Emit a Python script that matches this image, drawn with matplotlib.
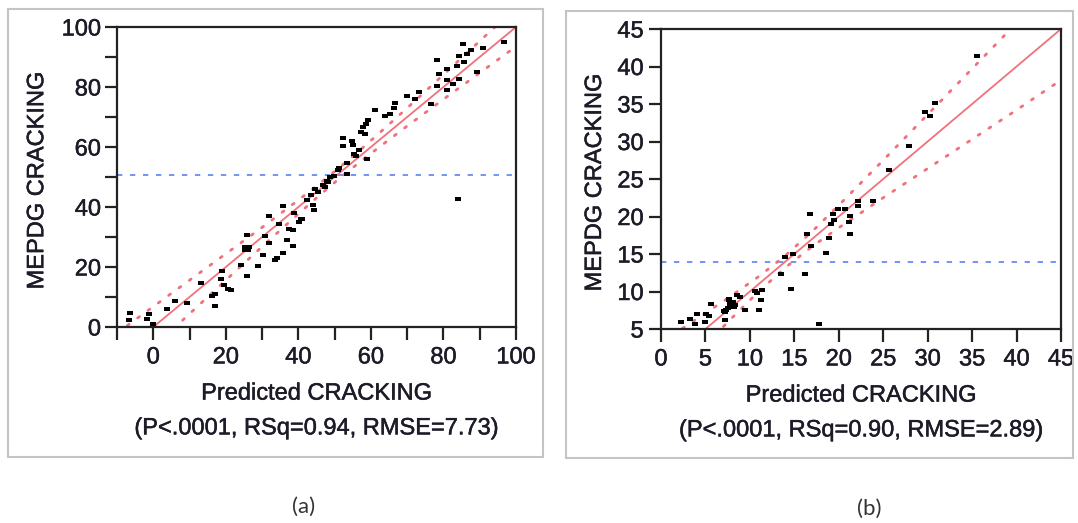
import matplotlib
matplotlib.use("Agg")
import matplotlib.pyplot as plt
import matplotlib.patheffects as pe
from matplotlib.patches import Rectangle
import numpy as np

plt.rcParams["font.family"] = ["Liberation Sans", "DejaVu Sans"]

# ---- panel (a) data: predicted vs MEPDG cracking ----
a_pred = [-6.3, -6.8, -1.3, -1.7, 0.0, 3.8, 6.1, 9.3, 13.1, 16.2, 17.1, 17.1,
          18.9, 18.7, 19.4, 20.5, 21.4, 24.2, 25.3, 26.3, 25.4, 26.2, 25.8, 25.8,
          29.0, 30.2, 30.7, 31.9, 31.9, 33.6, 34.1, 34.7, 35.7, 35.7, 36.8, 37.5,
          38.5, 38.5, 38.9, 40.3, 40.8, 41.0, 42.3, 44.0, 44.2, 43.5, 44.6, 45.5,
          46.9, 47.4, 47.8, 48.3, 48.8, 49.7, 50.9, 51.3, 53.4, 53.4, 52.3, 52.3,
          54.9, 55.0, 55.4, 55.9, 56.8, 58.9, 57.2, 57.9, 58.7, 59.3, 58.4, 61.2,
          63.9, 65.3, 66.4, 66.7, 69.9, 72.2, 73.3, 76.6, 78.1, 78.9, 78.1, 80.9,
          81.1, 81.1, 82.6, 83.7, 84.4, 84.3, 85.3, 85.8, 86.4, 87.6, 89.2, 90.8,
          96.8, 84.1]
a_actual = [4.8, 2.2, 4.2, 2.8, 0.9, 6.1, 8.7, 8.1, 14.8, 10.3, 10.9, 6.9,
            18.7, 16.1, 13.9, 12.8, 12.2, 20.8, 25.6, 26.6, 26.6, 25.7, 30.8, 16.9,
            20.2, 24.1, 30.2, 28.1, 36.9, 22.4, 23.1, 34.2, 40.2, 24.8, 28.9, 32.8,
            32.2, 26.9, 38.1, 35.0, 36.1, 36.1, 42.2, 40.8, 38.9, 44.1, 45.9, 45.0,
            47.2, 46.7, 48.7, 48.3, 50.0, 50.3, 52.4, 53.1, 54.7, 50.9, 63.0, 60.2,
            61.9, 60.8, 57.6, 57.0, 59.1, 55.9, 65.0, 66.7, 67.8, 68.9, 64.4, 72.2,
            70.2, 70.9, 73.0, 74.8, 76.9, 76.1, 78.2, 74.2, 88.9, 84.2, 80.2, 86.1,
            82.2, 78.9, 80.9, 86.9, 90.2, 82.8, 94.2, 88.3, 90.9, 92.2, 84.9, 93.0,
            95.0, 42.8]
a_mean_actual = 50.6
a_stats = "(P<.0001, RSq=0.94, RMSE=7.73)"
# confidence curve half-widths
a_band_x = [-10, 0, 10, 20, 30, 40, 45, 51, 57, 62, 70, 80, 90, 100]
a_band_hw = [8.0, 6.8, 5.6, 4.4, 3.2, 2.3, 1.96, 1.8, 1.96, 2.3, 3.0, 4.1, 5.3, 6.5]
a_xticks = list(range(-10, 101, 10))
a_xticklabels = ["", "0", "", "20", "", "40", "", "60", "", "80", "", "100"]
a_yticks = list(range(0, 101, 10))
a_yticklabels = ["0", "", "20", "", "40", "", "60", "", "80", "", "100"]

# ---- panel (b) data ----
b_pred = [2.2, 3.3, 3.8, 4.0, 4.9, 5.1, 5.4, 5.6, 7.2, 7.2, 7.5, 7.6,
          7.8, 7.9, 8.1, 8.5, 8.9, 8.3, 9.4, 10.6, 10.8, 11.4, 11.2, 11.0,
          13.5, 13.9, 14.6, 14.9, 16.2, 16.4, 16.8, 16.9, 17.8, 18.6, 18.9, 19.1,
          19.3, 19.5, 19.9, 20.7, 21.1, 21.3, 21.3, 22.2, 22.2, 23.8, 25.6, 27.9,
          29.7, 30.3, 30.8, 35.5, 7.3, 7.7, 8.2, 7.1]
b_actual = [5.9, 6.4, 5.7, 7.0, 5.9, 7.0, 6.7, 8.3, 6.2, 7.3, 7.8, 8.9,
            8.4, 8.2, 8.6, 9.5, 9.3, 8.2, 7.5, 10.1, 9.8, 10.2, 8.9, 7.5,
            12.3, 14.6, 10.4, 15.0, 12.3, 17.7, 20.3, 16.1, 5.7, 15.2, 17.1, 19.0,
            20.3, 19.5, 21.0, 21.0, 19.3, 20.1, 17.7, 22.1, 21.4, 22.1, 26.2, 29.4,
            33.9, 33.4, 35.2, 41.4, 7.6, 9.0, 8.0, 7.4]
b_mean_actual = 14.0
b_stats = "(P<.0001, RSq=0.90, RMSE=2.89)"
b_band_x = [0, 5, 8, 11, 14, 17, 20, 25, 30, 35, 40, 45]
b_band_hw = [3.2, 2.1, 1.5, 1.0, 0.8, 1.0, 1.5, 2.5, 3.6, 4.7, 5.8, 6.8]
b_xticks = list(range(0, 46, 5))
b_xticklabels = [str(v) for v in b_xticks]
b_yticks = list(range(5, 46, 5))
b_yticklabels = [str(v) for v in b_yticks]

RED = "#f0717b"
BLUE = "#4a78f0"
TXT = "#1c1c28"
FS = 17
heavy = [pe.withStroke(linewidth=0.35, foreground=TXT)]

# small wide rectangle used by JMP for points
rect_marker = [(-1, -0.62), (1, -0.62), (1, 0.62), (-1, 0.62), (-1, -0.62)]


def draw_panel(ax, pred, actual, mean_actual, band_x, band_hw, xlim, ylim,
               xticks, xticklabels, yticks, yticklabels, stats, ylab_x, ypad):
    bx = np.array(band_x, dtype=float)
    hw = np.array(band_hw, dtype=float)
    ax.axhline(mean_actual, color=BLUE, lw=1.1, ls=(0, (3.5, 5)), zorder=1)
    ax.plot(xlim, xlim, color=RED, lw=1.3, zorder=2)
    for sign in (1, -1):
        ax.plot(bx, bx + sign * hw, color=RED, lw=2.0, ls=(0, (0.8, 3.8)),
                dash_capstyle="round", zorder=2)
    ax.plot(pred, actual, ls="none", marker=rect_marker, markersize=4.8,
            color="black", mew=0, zorder=3)

    ax.set_xlim(xlim)
    ax.set_ylim(ylim)
    ax.set_xticks(xticks)
    ax.set_xticklabels(xticklabels)
    ax.set_yticks(yticks)
    ax.set_yticklabels(yticklabels)
    ax.tick_params(direction="out", length=9, width=1.6, color="#222222",
                   labelsize=FS, labelcolor=TXT)
    ax.tick_params(axis="x", pad=5)
    ax.tick_params(axis="y", pad=ypad)
    for lab in ax.get_xticklabels() + ax.get_yticklabels():
        lab.set_path_effects(heavy)
    for sp in ax.spines.values():
        sp.set_linewidth(1.6)
        sp.set_color("#222222")

    ax.text(0.5, -0.222, "Predicted CRACKING", transform=ax.transAxes,
            ha="center", va="center", fontsize=FS, color=TXT, path_effects=heavy)
    ax.text(0.5, -0.338, stats, transform=ax.transAxes,
            ha="center", va="center", fontsize=FS, color=TXT, path_effects=heavy)
    ax.text(ylab_x, 0.487, "MEPDG CRACKING", transform=ax.transAxes,
            rotation=90, ha="center", va="center", fontsize=FS, color=TXT,
            path_effects=heavy)


fig = plt.figure(figsize=(10.78, 5.23), dpi=100)
W, H = 1078, 523


def px_axes(left, top, right, bottom):
    return fig.add_axes([left / W, 1 - bottom / H, (right - left) / W, (bottom - top) / H])


def px_frame(left, top, right, bottom):
    fig.add_artist(Rectangle((left / W, 1 - bottom / H), (right - left) / W,
                             (bottom - top) / H, transform=fig.transFigure,
                             fill=False, ec="#c4c4c4", lw=1.5))


px_frame(8, 9, 543, 457)
px_frame(566, 11, 1073, 458)

ax_a = px_axes(117, 27, 516, 327)
draw_panel(ax_a, a_pred, a_actual, a_mean_actual, a_band_x, a_band_hw,
           (-10, 100), (0, 100), a_xticks, a_xticklabels, a_yticks, a_yticklabels,
           a_stats, -0.2, 2.5)

ax_b = px_axes(661, 29, 1061, 329)
draw_panel(ax_b, b_pred, b_actual, b_mean_actual, b_band_x, b_band_hw,
           (0, 45), (5, 45), b_xticks, b_xticklabels, b_yticks, b_yticklabels,
           b_stats, -0.165, 3.5)

fig.text(304 / W, 1 - 507 / H, "(a)", ha="center", va="center",
         fontsize=16, color="#333333", family=["Lato", "DejaVu Sans"])
fig.text(869 / W, 1 - 509 / H, "(b)", ha="center", va="center",
         fontsize=16, color="#333333", family=["Lato", "DejaVu Sans"])

fig.savefig("out.png", dpi=100)
